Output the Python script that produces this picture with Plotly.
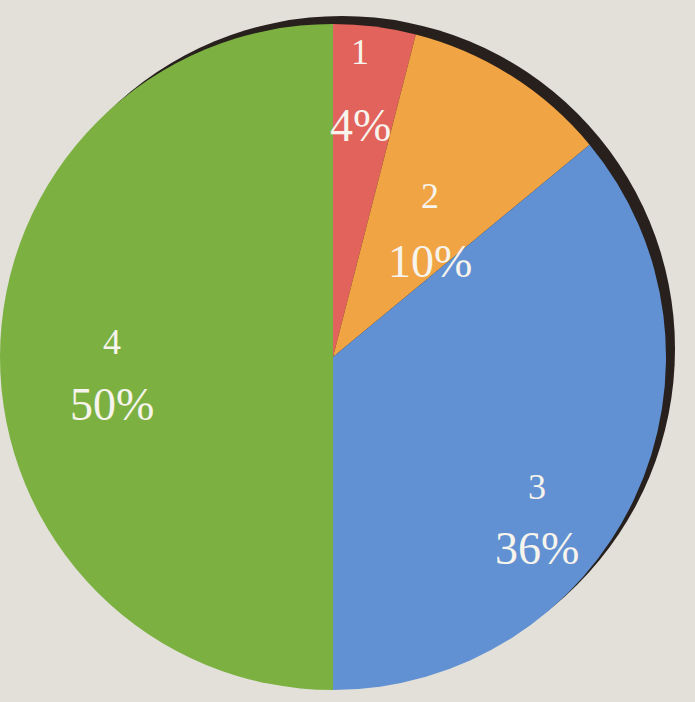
import plotly.graph_objects as go

labels = ["1", "2", "3", "4"]
values = [4, 10, 36, 50]
colors = ["#e2625c", "#f1a444", "#6191d2", "#7cb142"]

# label anchor positions (pixel centers of the two text lines) for each slice
label_x = [360, 430, 537, 112]
label_top_y = [52, 196, 487, 342]
label_bot_y = [125, 262, 548, 405]

W, H = 695, 702
CX, CY, R = 333, 357, 333  # pie center (px from top-left) and radius

fig = go.Figure()
fig.add_trace(go.Pie(
    labels=labels,
    values=values,
    sort=False,
    direction="clockwise",
    rotation=0,
    marker=dict(colors=colors, line=dict(width=0)),
    textinfo="none",
    hoverinfo="label+percent",
    showlegend=False,
    domain=dict(x=[(CX - R) / W, (CX + R) / W],
                y=[(H - CY - R) / H, (H - CY + R) / H]),
))

total = sum(values)
annotations = []
for lab, v, x, yt, yb in zip(labels, values, label_x, label_top_y, label_bot_y):
    pct = f"{round(100 * v / total)}%"
    annotations.append(dict(x=x / W, y=1 - yt / H, xref="paper", yref="paper",
                            xanchor="center", yanchor="middle",
                            text=lab, showarrow=False,
                            font=dict(family="Liberation Serif", size=36, color="#f6f4ec")))
    annotations.append(dict(x=x / W, y=1 - yb / H, xref="paper", yref="paper",
                            xanchor="center", yanchor="middle",
                            text=pct, showarrow=False,
                            font=dict(family="Liberation Serif", size=46, color="#f6f4ec")))

SX, SY = CX + 9, CY - 8
fig.update_layout(
    width=W, height=H,
    margin=dict(l=0, r=0, t=0, b=0),
    paper_bgcolor="#e3e0d9",
    plot_bgcolor="#e3e0d9",
    annotations=annotations,
    shapes=[dict(type="circle", xref="paper", yref="paper", layer="below",
                 x0=(SX - R) / W, x1=(SX + R) / W,
                 y0=1 - (SY + R) / H, y1=1 - (SY - R) / H,
                 fillcolor="#28201c", line=dict(width=0))],
)

fig.write_html(
    "out.html",
    config={"displayModeBar": False},
    post_script="document.body.style.margin='0';document.body.style.overflow='hidden';",
)
